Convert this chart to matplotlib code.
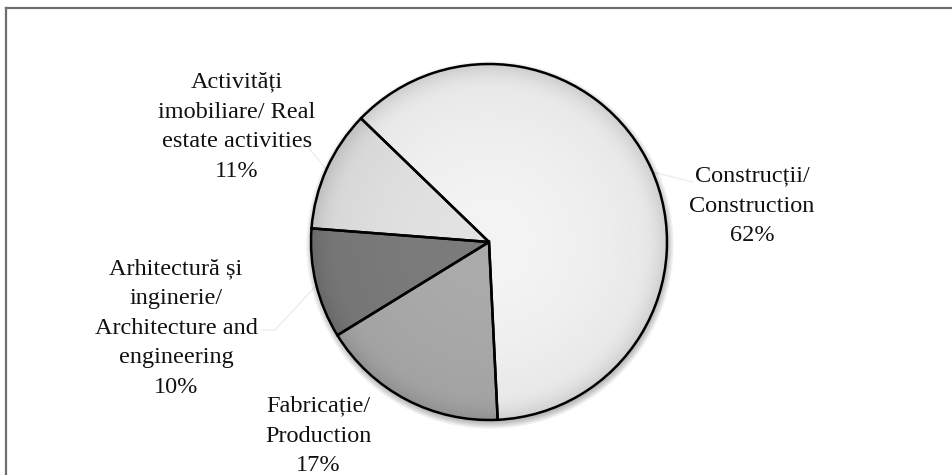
import numpy as np
import matplotlib.pyplot as plt
from matplotlib.lines import Line2D

# 数据
sectors = ['Construcții/\nConstruction', 'Fabricație/\nProduction',
           'Arhitectură și\ninginerie/\nArchitecture and\nengineering',
           'Activități\nimobiliare/ Real\nestate activities']
shares = [62, 17, 10, 11]
greys = ['#f4f4f4', '#ababab', '#7c7c7c', '#e3e3e3']

plt.rcParams['font.family'] = ['Liberation Serif', 'DejaVu Serif']

W, H = 952, 475
fig = plt.figure(figsize=(W / 100, H / 100), dpi=100)
fig.patch.set_facecolor('white')
ax = fig.add_axes([0, 0, 1, 1])

cx, cy, R = 489, H - 242, 178

# 阴影
for k in range(12):
    ax.add_patch(plt.Circle((cx + 1, cy - 3), R + 6 - k * 0.6, color='black',
                            alpha=0.025, lw=0, zorder=1))

wedges, _ = ax.pie(shares, colors=greys, startangle=136, counterclock=False,
                   center=(cx, cy), radius=R, frame=True,
                   wedgeprops=dict(edgecolor='black', linewidth=1.8))

# 径向渐变
yy, xx = np.mgrid[0:H, 0:W]
rr = np.hypot(xx - cx, (H - yy) - cy) / R
shade = 1.0 - 0.06 * rr ** 2 - 0.10 * np.clip((rr - 0.85) / 0.15, 0, 1) ** 2
for w, c in zip(wedges, greys):
    rgb = np.array(plt.matplotlib.colors.to_rgb(c))
    img = np.clip(rgb[None, None, :] * shade[..., None], 0, 1)
    im = ax.imshow(img, extent=(0, W, 0, H), origin='upper', zorder=w.get_zorder() + 0.1,
                   interpolation='bilinear')
    im.set_clip_path(w)
    w.set_facecolor('none')
    w.set_zorder(w.get_zorder() + 0.2)

ax.set_xlim(0, W)
ax.set_ylim(0, H)
ax.set_aspect('equal')
ax.axis('off')

# 标签
pct = [f'{s}%' for s in shares]
label_xy = [(752, 206), (318, 436), (176, 328), (237, 127)]
for name, p, (x, y) in zip(sectors, pct, label_xy):
    ax.text(x, H - y, name + '\n' + p, ha='center', va='center', fontsize=17.5,
            linespacing=1.55, color='#111111', zorder=10)

# 引导线
leaders = [
    [(648, 171), (693, 182)],
    [(297, 147), (308, 147), (326, 169)],
    [(262, 330), (275, 330), (315, 287)],
]
for pts in leaders:
    xs = [p[0] for p in pts]
    ys = [H - p[1] for p in pts]
    ax.plot(xs, ys, color='#ededed', lw=1, zorder=0.5)

# 边框
fig.add_artist(Line2D([5.5 / W, 5.5 / W], [0, 1 - 7.5 / H], color='#6f6f6f', lw=1.6))
fig.add_artist(Line2D([5.5 / W, 1], [1 - 7.5 / H, 1 - 7.5 / H], color='#6f6f6f', lw=1.6))

fig.savefig('out.png', dpi=100, facecolor='white')
